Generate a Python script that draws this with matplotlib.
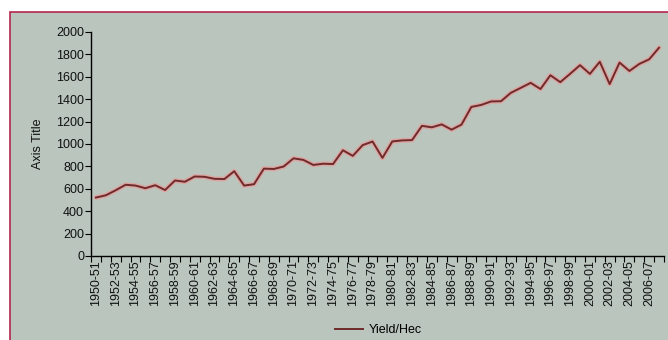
import matplotlib
matplotlib.use("Agg")
import matplotlib.pyplot as plt
from matplotlib.patches import Rectangle
import numpy as np

plt.rcParams['font.family'] = ['Liberation Sans', 'DejaVu Sans']

years = [f"{y}-{str(y + 1)[-2:]}" for y in range(1950, 2008)]
yield_hec = [522, 542, 587, 636, 629, 605, 632, 589, 674, 663,
             710, 707, 689, 687, 757, 629, 641, 780, 777, 799,
             872, 858, 813, 824, 821, 944, 894, 990, 1022, 876,
             1023, 1032, 1035, 1162, 1149, 1175, 1128, 1173, 1331, 1349,
             1380, 1382, 1457, 1501, 1546, 1491, 1614, 1552, 1627, 1704,
             1626, 1734, 1535, 1727, 1652, 1715, 1756, 1860]
y_ticks = list(range(0, 2001, 200))

bg = '#b9c5bd'
fs = 9
fig = plt.figure(figsize=(6.68, 3.40), dpi=100)
fig.patch.set_facecolor('white')
fig.add_artist(Rectangle((10 / 668, -0.2), 1.2, 1 - 12 / 340 + 0.2,
                         transform=fig.transFigure, facecolor=bg,
                         edgecolor='#b3264f', linewidth=1.2, zorder=-10))

ax = fig.add_axes([91 / 668, 1 - 256 / 340, (664 - 91) / 668, (256 - 32) / 340])
ax.set_zorder(1)
ax.set_facecolor('none')
x = np.arange(len(years))
ax.plot(x, yield_hec, color='#e3a09c', linewidth=3.4, solid_capstyle='round', alpha=0.85)
line, = ax.plot(x, yield_hec, color='#6e2b2b', linewidth=1.4, label='Yield/Hec')

ax.set_xlim(-0.5, len(years) - 0.5)
ax.set_ylim(0, 2000)
ax.set_yticks(y_ticks)
ax.set_yticklabels([str(v) for v in y_ticks], fontsize=fs, color='#111111')
ax.set_xticks(x[::2])
ax.set_xticklabels(years[::2], rotation=90, fontsize=fs, color='#111111')
ax.tick_params(axis='x', length=0, pad=3)
ax.set_xticks(np.arange(-0.5, len(years), 1), minor=True)
ax.tick_params(axis='x', which='minor', length=4, width=0.8, color='black')
ax.tick_params(axis='y', length=4, width=0.8, pad=1)
for s in ['top', 'right']:
    ax.spines[s].set_visible(False)
for s in ['left', 'bottom']:
    ax.spines[s].set_linewidth(1.0)
    ax.spines[s].set_color('black')
ax.set_ylabel('Axis Title', fontsize=fs, labelpad=9, color='#111111')

leg = fig.legend([line], ['Yield/Hec'], loc='center', bbox_to_anchor=(0.567, 1 - 330 / 340),
                 frameon=False, fontsize=fs, handlelength=2.2, handletextpad=0.5)

fig.savefig('out.png', dpi=100)
